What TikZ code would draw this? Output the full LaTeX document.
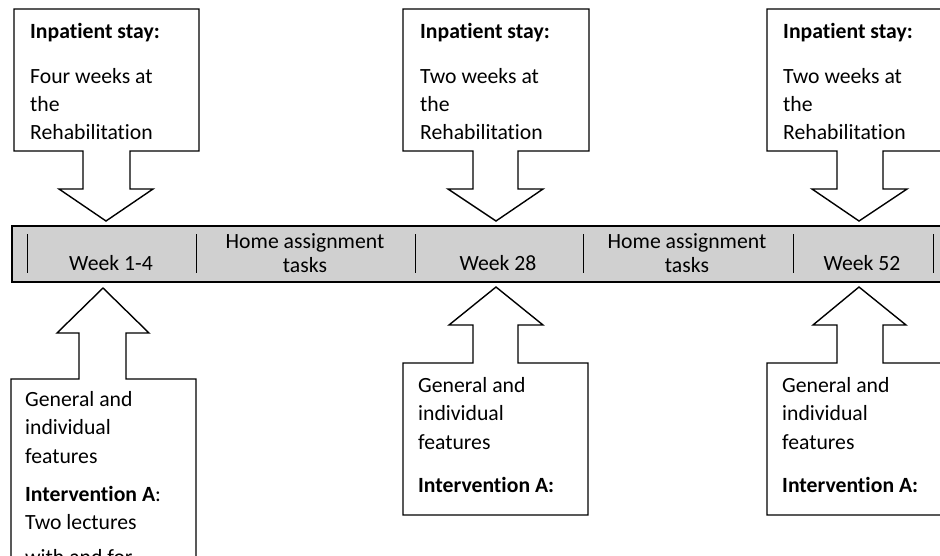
\documentclass[tikz,border=0pt]{standalone}
\usepackage{fontspec}
\setmainfont{Carlito}[Ligatures=NoCommon]
\definecolor{bargray}{RGB}{208,208,208}
\tikzset{
  callout/.style={draw=black, line width=1.4pt, fill=white, line join=miter},
  barbox/.style={draw=black, line width=1.8pt, fill=bargray},
  sepline/.style={draw=black, line width=1pt},
  txt/.style={anchor=base west, inner sep=0pt, font=\fontsize{21.7}{26}\selectfont},
  btxt/.style={txt, font=\fontsize{21.7}{26}\selectfont\bfseries},
  bartxt/.style={anchor=base, inner sep=0pt, font=\fontsize{21.7}{26}\selectfont}
}
\begin{document}
\begin{tikzpicture}[x=1pt,y=-1pt]
\clip (0,0) rectangle (940,555);
\fill[white] (0,0) rectangle (940,555);

% timeline bar
\draw[barbox] (12,226) rectangle (960,282);
\foreach \sx in {27,196,415,583,793,933}{
  \draw[sepline] (\sx,234) -- (\sx,273);
}
\node[bartxt] (w1) at (111,270) {Week 1-4};
\node[bartxt] (h1a) at (305,248) {Home assignment};
\node[bartxt] (h1b) at (305,272) {tasks};
\node[bartxt] (w28) at (498,270) {Week 28};
\node[bartxt] (h2a) at (687,248) {Home assignment};
\node[bartxt] (h2b) at (687,272) {tasks};
\node[bartxt] (w52) at (862,270) {Week 52};

% top callouts
\draw[callout] (14,9) -- (199,9) -- (199,151) -- (130,151) -- (130,189) -- (153,189) -- (106,221) -- (59,189) -- (83,189) -- (83,151) -- (14,151) -- cycle;
\draw[callout] (403,9) -- (589,9) -- (589,151) -- (518,151) -- (518,189) -- (543,189) -- (496,221) -- (448,189) -- (473,189) -- (473,151) -- (403,151) -- cycle;
\draw[callout] (767,9) -- (953,9) -- (953,151) -- (883,151) -- (883,189) -- (907,189) -- (859,221) -- (812,189) -- (837,189) -- (837,151) -- (767,151) -- cycle;

\node[btxt] (a1) at (30,38) {Inpatient stay:};
\node[txt] (a2) at (30,83) {Four weeks at};
\node[txt] (a3) at (30,111) {the};
\node[txt] (a4) at (30,139) {Rehabilitation};

\node[btxt] (b1) at (420,38) {Inpatient stay:};
\node[txt] (b2) at (420,83) {Two weeks at};
\node[txt] (b3) at (420,111) {the};
\node[txt] (b4) at (420,139) {Rehabilitation};

\node[btxt] (c1) at (783,38) {Inpatient stay:};
\node[txt] (c2) at (783,83) {Two weeks at};
\node[txt] (c3) at (783,111) {the};
\node[txt] (c4) at (783,139) {Rehabilitation};

% bottom callouts
\draw[callout] (196,570) -- (11,570) -- (11,379) -- (79,379) -- (79,333) -- (57,333) -- (103,288) -- (149,333) -- (126,333) -- (126,379) -- (196,379) -- cycle;
\draw[callout] (403,515) -- (403,363) -- (473,363) -- (473,325) -- (449,325) -- (496,287) -- (543,325) -- (518,325) -- (518,363) -- (588,363) -- (588,515) -- cycle;
\draw[callout] (767,515) -- (767,363) -- (837,363) -- (837,325) -- (813,325) -- (859,287) -- (906,325) -- (883,325) -- (883,363) -- (953,363) -- (953,515) -- cycle;

\node[txt] (d1) at (25,406) {General and};
\node[txt] (d2) at (25,434.5) {individual};
\node[txt] (d3) at (25,463) {features};
\node[txt] (d4) at (25,501) {\textbf{Intervention A}:};
\node[txt] (d5) at (25,529.5) {Two lectures};
\node[txt] (d6) at (25,564) {with and for};

\node[txt] (e1) at (418,392) {General and};
\node[txt] (e2) at (418,420.5) {individual};
\node[txt] (e3) at (418,449) {features};
\node[btxt] (e4) at (418,492) {Intervention A:};

\node[txt] (f1) at (782,392) {General and};
\node[txt] (f2) at (782,420.5) {individual};
\node[txt] (f3) at (782,449) {features};
\node[btxt] (f4) at (782,492) {Intervention A:};
\end{tikzpicture}
\end{document}
